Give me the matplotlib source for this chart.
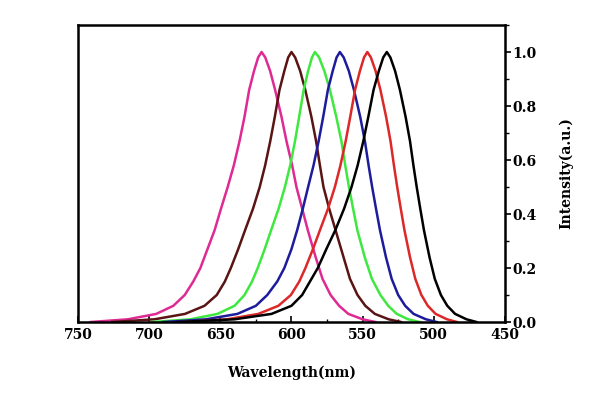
import matplotlib
matplotlib.use("Agg")
import matplotlib.pyplot as plt
from matplotlib.ticker import MultipleLocator

# intensity levels used when reading the curves, short -> long wavelength
levels = [0, 0.01, 0.03, 0.06, 0.1, 0.16, 0.24, 0.34, 0.42, 0.5, 0.58, 0.67, 0.76, 0.86, 0.93, 0.98, 1.0,
          0.98, 0.93, 0.86, 0.76, 0.67, 0.58, 0.5, 0.42, 0.34, 0.27, 0.2, 0.15, 0.1, 0.06, 0.03, 0.01, 0]

# wavelength (nm) of each curve at those levels
black_nm = [470, 477, 485, 490.5, 495, 499.3, 503, 506.9, 509.5, 512, 514.3, 516.7, 519.8, 523.8, 527.2, 530.5, 533,
            535.5, 538.6, 542.3, 546, 549.5, 553.5, 557.8, 563, 569.2, 575.5, 581.5, 587, 592.5, 600, 614, 640, 680]
red_nm = [483.7, 490.7, 498.7, 504.2, 508.7, 513, 516.7, 520.6, 523.2, 525.7, 528, 530.4, 533.5, 537.5, 540.9, 544.2, 546.7,
          549, 551.9, 555.3, 558.7, 561.9, 565.6, 569.5, 574.3, 580, 584.9, 590.2, 594.5, 600.4, 609.2, 623.3, 645.3, 675.7]
blue_nm = [498, 505.5, 514.2, 520.1, 525, 529.6, 533.6, 537.8, 540.6, 543.3, 545.8, 548.4, 551.7, 556.1, 559.7, 563.3, 566,
           568.3, 571, 574.4, 577.7, 580.9, 584.5, 588.3, 592, 596, 600, 605, 610, 617, 625, 638, 660, 690]
green_nm = [510, 518, 526, 532, 537.5, 543.5, 548.5, 553.7, 556.7, 559.6, 562.2, 564.9, 568.5, 573, 576.9, 580.6, 583.5,
            585.6, 588.3, 591.4, 594.6, 597.5, 600.9, 604.6, 609, 614.3, 618.8, 623.7, 627.7, 633, 640, 652, 671, 698]
brown_nm = [523, 531.7, 541.4, 548.1, 553.6, 558.9, 563.4, 569, 573.5, 577.5, 580, 582.7, 586, 590.3, 593.9, 597.4, 600,
            602.3, 605, 608.4, 611.7, 614.9, 618.5, 622.3, 627, 632.6, 637.4, 642.6, 646.8, 652.5, 661.1, 674.8, 696.3, 726]
magenta_nm = [541, 550, 560, 566.5, 572.5, 578.2, 583, 588.5, 592.5, 596.5, 599.5, 603.5, 607, 611.5, 615, 618.4, 621,
              623.4, 626.3, 629.7, 633, 636.5, 640.5, 644.8, 649.5, 654, 659, 664, 669, 675, 683, 695, 715, 741]

x_ticks = [750, 700, 650, 600, 550, 500, 450]
y_ticks = [0.0, 0.2, 0.4, 0.6, 0.8, 1.0]

plt.rcParams["font.family"] = "DejaVu Serif"
plt.rcParams["font.weight"] = "bold"

fig = plt.figure(figsize=(5.93, 4.01), dpi=100)
ax = fig.add_axes([0.1315, 0.197, 0.72, 0.7406])

ax.plot(magenta_nm, levels, color="#de2a92", lw=1.8)
ax.plot(brown_nm, levels, color="#5a1414", lw=1.8)
ax.plot(green_nm, levels, color="#3fe83f", lw=1.8)
ax.plot(blue_nm, levels, color="#1c1c9c", lw=1.8)
ax.plot(red_nm, levels, color="#dc2828", lw=1.8)
ax.plot(black_nm, levels, color="black", lw=1.8)

ax.set_xlim(750, 450)
ax.set_ylim(0, 1.1)
ax.set_xticks(x_ticks)
ax.set_yticks(y_ticks)
ax.set_yticklabels(["%.1f" % v for v in y_ticks])
ax.xaxis.set_minor_locator(MultipleLocator(25))
ax.yaxis.set_minor_locator(MultipleLocator(0.1))

ax.yaxis.tick_right()
ax.yaxis.set_label_position("right")
ax.tick_params(axis="x", which="both", direction="in", labelsize=10, pad=4)
ax.tick_params(axis="x", which="major", length=4, width=1.2)
ax.tick_params(axis="x", which="minor", length=2, width=1.0)
ax.tick_params(axis="y", which="both", direction="out", labelsize=10, pad=1.5)
ax.tick_params(axis="y", which="major", length=4, width=1.2)
ax.tick_params(axis="y", which="minor", length=3, width=1.0)

for s in ax.spines.values():
    s.set_linewidth(1.8)

ax.set_xlabel("Wavelength(nm)", fontsize=10, fontweight="bold", labelpad=17)
ax.set_ylabel("Intensity(a.u.)", fontsize=10, fontweight="bold", rotation=90, labelpad=16)

fig.savefig("out.png", dpi=100)
